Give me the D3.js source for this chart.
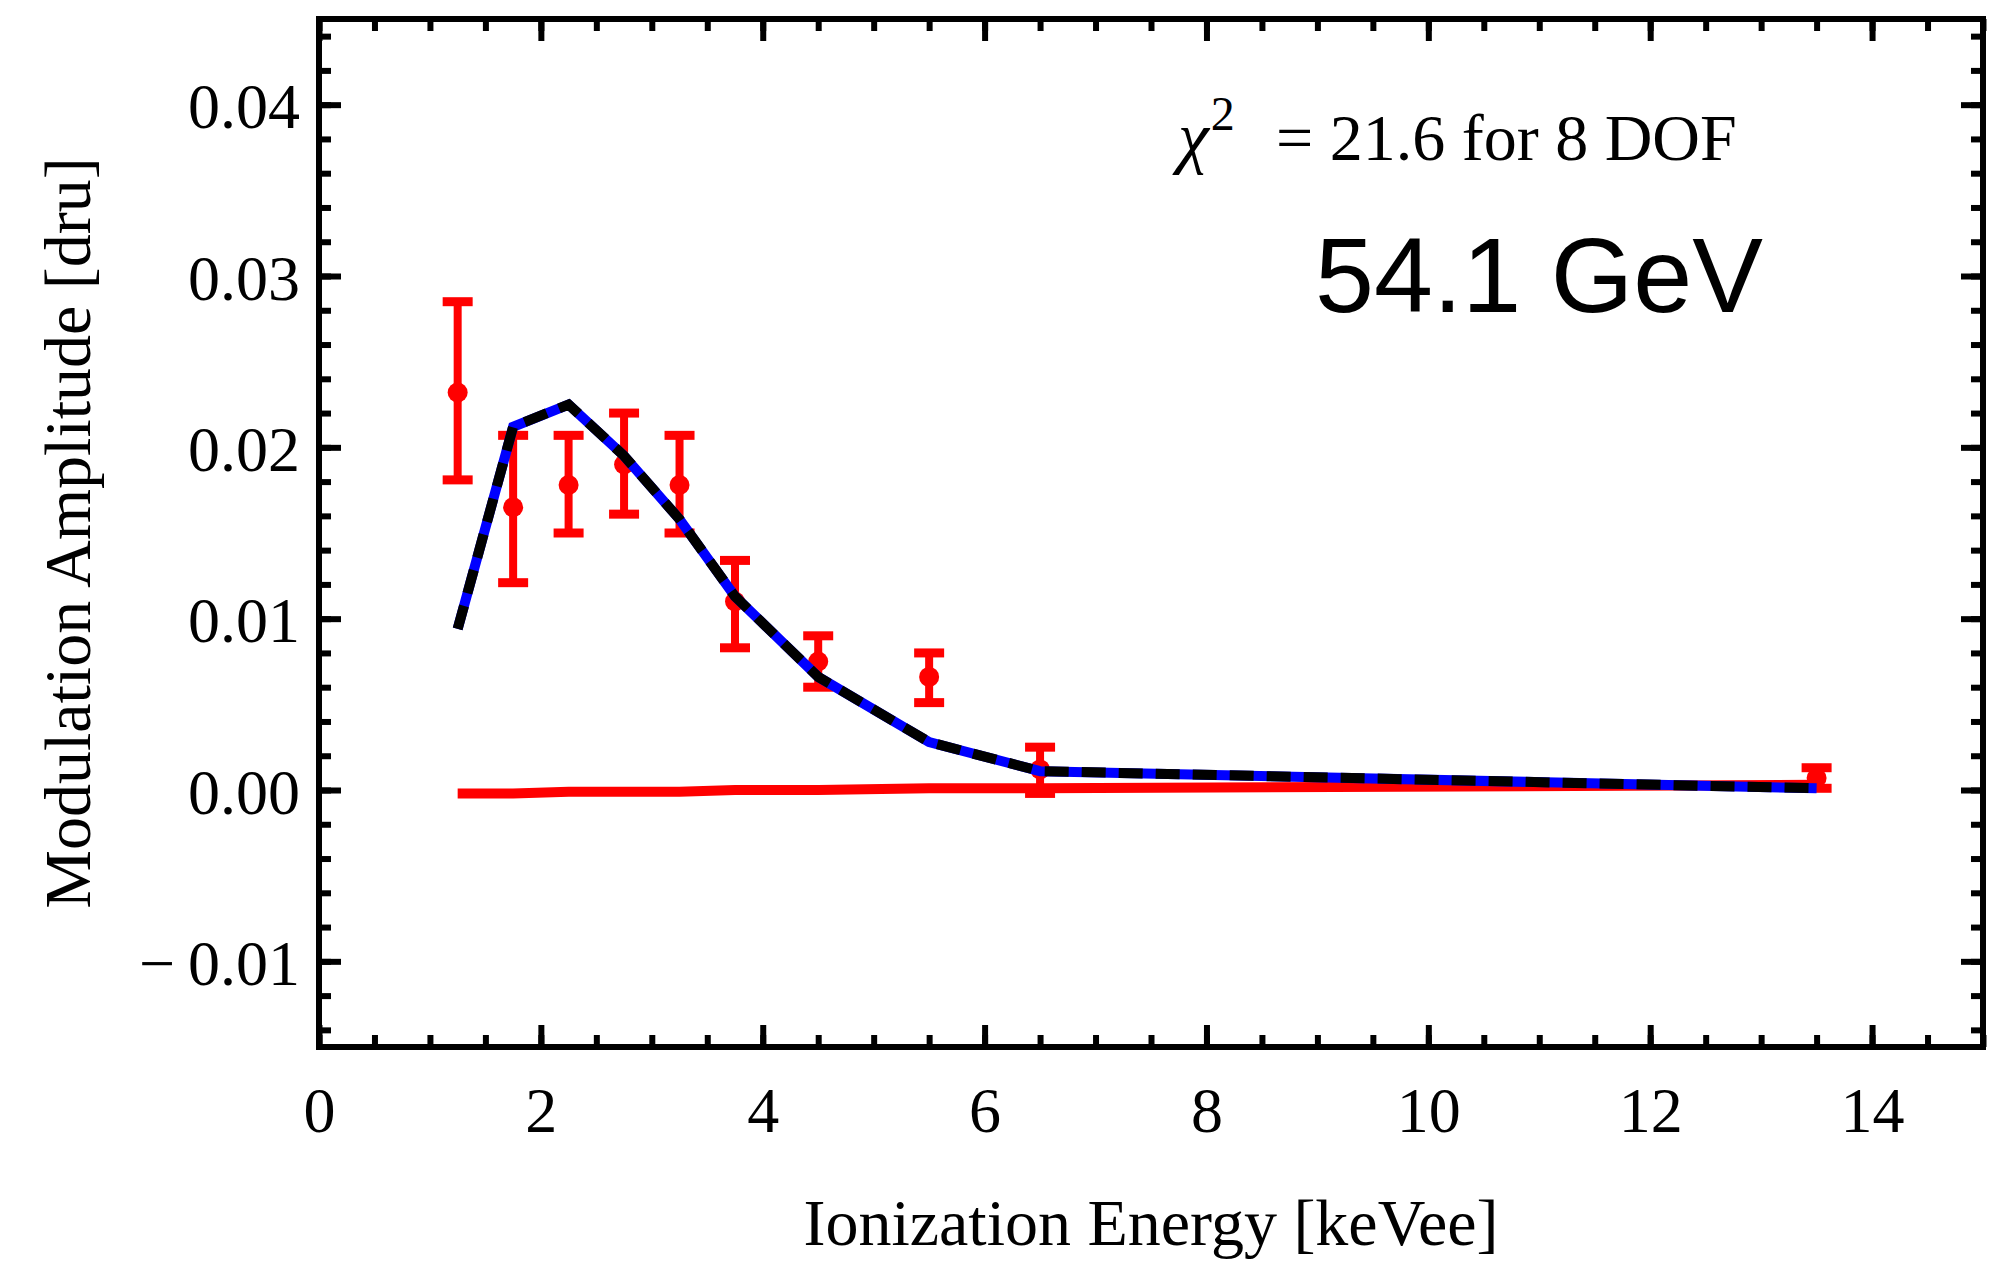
<!DOCTYPE html>
<html>
<head>
<meta charset="utf-8">
<script src="https://cdn.jsdelivr.net/npm/d3@7"></script>
<style>
  html, body { margin: 0; padding: 0; background: #fff; }
  svg { display: block; }
  .serif { font-family: "Liberation Serif", "Times New Roman", serif; }
</style>
</head>
<body>
<svg id="chart" width="2004" height="1263"></svg>
<script>
// bin centres [keVee]
const energies = [1.25, 1.75, 2.25, 2.75, 3.25, 3.75, 4.5, 5.5, 6.5, 13.5];
// measured modulation amplitude and error bar ends [dru]
const amplitude = [0.0232, 0.0165, 0.0178, 0.0190, 0.0178, 0.0110, 0.0075, 0.0066, 0.0012, 0.0007];
const errLow    = [0.0181, 0.0121, 0.0150, 0.0161, 0.0150, 0.0083, 0.0060, 0.0051, -0.0002, 0.0001];
const errHigh   = [0.0285, 0.0207, 0.0207, 0.0220, 0.0207, 0.0134, 0.0090, 0.0080, 0.0025, 0.0013];
// best-fit model (blue / black dashed) and the small red model
const modelFit  = [0.0094, 0.0212, 0.0225, 0.0195, 0.0158, 0.0113, 0.0066, 0.0028, 0.0011, 0.0001];
const modelRed  = [-0.0002, -0.0002, -0.0001, -0.0001, -0.0001, 0.0000, 0.0000, 0.0001, 0.0001, 0.0003];

const xTicks = [0, 2, 4, 6, 8, 10, 12, 14];
const yTicks = [-0.01, 0.00, 0.01, 0.02, 0.03, 0.04];

const width = 2004, height = 1263;
const margin = { top: 19, right: 21, bottom: 216, left: 319 };

const svg = d3.select("#chart");

const x = d3.scaleLinear()
  .domain([0, 15])
  .range([margin.left, width - margin.right]);

const y = d3.scaleLinear()
  .domain([-0.015, 0.045])
  .range([height - margin.bottom, margin.top]);

const yFmt = d => {
  const s = d3.format(".2f")(Math.abs(d));
  return d < -1e-9 ? "\u2212\u2009" + s : s;
};

const xMinor = d3.range(0, 15.001, 0.5);
const yMinor = d3.range(-0.014, 0.0451, 0.002);

const styleAxis = g => {
  g.select(".domain").remove();
  g.selectAll(".tick line").attr("stroke", "#000").attr("stroke-width", 6);
};

// bottom
svg.append("g")
  .attr("transform", `translate(0,${y.range()[0]})`)
  .call(d3.axisBottom(x).tickValues(xMinor).tickSize(-12).tickFormat(""))
  .call(styleAxis);
svg.append("g")
  .attr("class", "serif")
  .attr("transform", `translate(0,${y.range()[0]})`)
  .call(d3.axisBottom(x).tickValues(xTicks).tickSize(-22).tickPadding(0).tickFormat(d3.format("d")))
  .call(styleAxis)
  .call(g => g.selectAll(".tick text")
    .attr("y", 85).attr("dy", 0)
    .attr("font-size", 64).attr("fill", "#000")
    .attr("font-family", "Liberation Serif, serif"));

// top
svg.append("g")
  .attr("transform", `translate(0,${y.range()[1]})`)
  .call(d3.axisTop(x).tickValues(xMinor).tickSize(-12).tickFormat(""))
  .call(styleAxis);
svg.append("g")
  .attr("transform", `translate(0,${y.range()[1]})`)
  .call(d3.axisTop(x).tickValues(xTicks).tickSize(-22).tickFormat(""))
  .call(styleAxis);

// left
svg.append("g")
  .attr("transform", `translate(${x.range()[0]},0)`)
  .call(d3.axisLeft(y).tickValues(yMinor).tickSize(-12).tickFormat(""))
  .call(styleAxis);
svg.append("g")
  .attr("transform", `translate(${x.range()[0]},0)`)
  .call(d3.axisLeft(y).tickValues(yTicks).tickSize(-22).tickFormat(yFmt))
  .call(styleAxis)
  .call(g => g.selectAll(".tick text")
    .attr("x", -19).attr("dy", 0).attr("y", 23)
    .attr("font-size", 64).attr("fill", "#000")
    .attr("font-family", "Liberation Serif, serif"));

// right
svg.append("g")
  .attr("transform", `translate(${x.range()[1]},0)`)
  .call(d3.axisRight(y).tickValues(yMinor).tickSize(-12).tickFormat(""))
  .call(styleAxis);
svg.append("g")
  .attr("transform", `translate(${x.range()[1]},0)`)
  .call(d3.axisRight(y).tickValues(yTicks).tickSize(-22).tickFormat(""))
  .call(styleAxis);

// frame
svg.append("rect")
  .attr("x", x.range()[0]).attr("y", y.range()[1])
  .attr("width", x.range()[1] - x.range()[0])
  .attr("height", y.range()[0] - y.range()[1])
  .attr("fill", "none").attr("stroke", "#000").attr("stroke-width", 6);

// error bars
const plot = svg.append("g").attr("class", "plot-area");
const pts = energies.map((e, i) => ({ e, v: amplitude[i], lo: errLow[i], hi: errHigh[i] }));
const capW = 15;

plot.selectAll(".bar")
  .data(pts)
  .join("line")
  .attr("x1", d => x(d.e)).attr("x2", d => x(d.e))
  .attr("y1", d => y(d.lo)).attr("y2", d => y(d.hi))
  .attr("stroke", "#ff0000").attr("stroke-width", 8);

plot.selectAll(".capHi")
  .data(pts)
  .join("line")
  .attr("x1", d => x(d.e) - capW).attr("x2", d => x(d.e) + capW)
  .attr("y1", d => y(d.hi)).attr("y2", d => y(d.hi))
  .attr("stroke", "#ff0000").attr("stroke-width", 9);

plot.selectAll(".capLo")
  .data(pts)
  .join("line")
  .attr("x1", d => x(d.e) - capW).attr("x2", d => x(d.e) + capW)
  .attr("y1", d => y(d.lo)).attr("y2", d => y(d.lo))
  .attr("stroke", "#ff0000").attr("stroke-width", 9);

plot.selectAll(".dot")
  .data(pts)
  .join("circle")
  .attr("cx", d => x(d.e)).attr("cy", d => y(d.v))
  .attr("r", 10).attr("fill", "#ff0000");

// model lines
const line = d3.line().x(d => x(d[0])).y(d => y(d[1]));

plot.append("path")
  .datum(energies.map((e, i) => [e, modelRed[i]]))
  .attr("d", line)
  .attr("fill", "none").attr("stroke", "#ff0000").attr("stroke-width", 10);

const fit = energies.map((e, i) => [e, modelFit[i]]);
plot.append("path")
  .datum(fit)
  .attr("d", line)
  .attr("fill", "none").attr("stroke", "#0000ff").attr("stroke-width", 10)
  .attr("stroke-linejoin", "miter");

plot.append("path")
  .datum(fit)
  .attr("d", line)
  .attr("fill", "none").attr("stroke", "#000").attr("stroke-width", 10)
  .attr("stroke-dasharray", "24,13")
  .attr("stroke-linejoin", "miter");

// axis titles
svg.append("text")
  .attr("class", "serif")
  .attr("x", (x.range()[0] + x.range()[1]) / 2).attr("y", 1245)
  .attr("text-anchor", "middle").attr("font-size", 66)
  .text("Ionization Energy [keVee]");

svg.append("text")
  .attr("class", "serif")
  .attr("transform", `translate(90,${(y.range()[0] + y.range()[1]) / 2}) rotate(-90)`)
  .attr("text-anchor", "middle").attr("font-size", 66)
  .text("Modulation Amplitude [dru]");

// annotations
const chi = svg.append("text")
  .attr("class", "serif")
  .attr("x", 1178).attr("y", 160)
  .attr("font-size", 66);
chi.append("tspan").attr("font-style", "italic").attr("font-size", 70).text("\u03c7");
chi.append("tspan").attr("font-size", 48).attr("dy", -30).attr("dx", 2).text("2");
chi.append("tspan").attr("x", 1276).attr("dy", 30).text("= 21.6 for 8 DOF");

svg.append("text")
  .attr("x", 1315).attr("y", 312)
  .attr("font-family", "Liberation Sans, Arial, sans-serif")
  .attr("font-size", 106)
  .text("54.1 GeV");
</script>
</body>
</html>
